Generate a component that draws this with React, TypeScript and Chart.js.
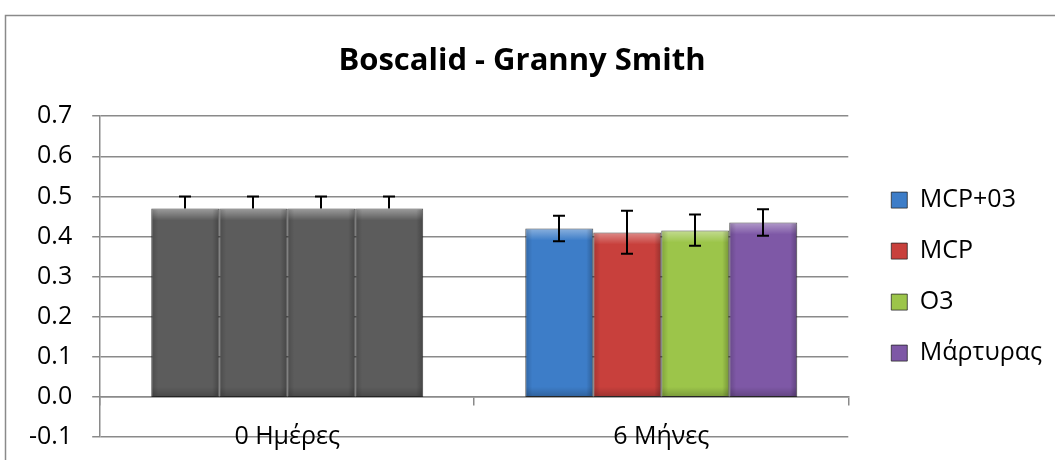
import React, { useEffect, useRef } from "react";
import { Chart, registerables } from "chart.js";

Chart.register(...registerables);

// ---- data ----
const chartTitle = "Boscalid - Granny Smith";
const categories = ["0 Ημέρες", "6 Μήνες"];
const seriesNames = ["MCP+03", "MCP", "O3", "Μάρτυρας"];
const valuesMcpO3 = [0.47, 0.42];
const valuesMcp = [0.47, 0.41];
const valuesO3 = [0.47, 0.415];
const valuesControl = [0.47, 0.435];
const errPlusMcpO3 = [0.03, 0.032];
const errMinusMcpO3 = [0, 0.032];
const errPlusMcp = [0.03, 0.054];
const errMinusMcp = [0, 0.053];
const errPlusO3 = [0.03, 0.04];
const errMinusO3 = [0, 0.038];
const errPlusControl = [0.03, 0.033];
const errMinusControl = [0, 0.033];
const yMin = -0.1;
const yMax = 0.7;
const yStep = 0.1;

// ---- styles ----
const FONT = "'Open Sans', 'DejaVu Sans', sans-serif";
const seriesColors = ["#3d7dc8", "#c8403c", "#9cc54a", "#7e58a6"];
const baseGray = "#5c5c5c";
const gridColor = "#8a8a8a";
const barEdge = "rgba(35,35,35,0.75)";
const LEGEND_SHIFT = 17;

const seriesValues = [valuesMcpO3, valuesMcp, valuesO3, valuesControl];
const seriesErrPlus = [errPlusMcpO3, errPlusMcp, errPlusO3, errPlusControl];
const seriesErrMinus = [errMinusMcpO3, errMinusMcp, errMinusO3, errMinusControl];

const framePlugin = {
  id: "frame",
  beforeDraw(chart: any) {
    const ctx = chart.ctx;
    ctx.save();
    ctx.fillStyle = "#ffffff";
    ctx.fillRect(0, 0, chart.width, chart.height);
    ctx.strokeStyle = "#8a8a8a";
    ctx.lineWidth = 1.5;
    ctx.strokeRect(5.5, 15.5, chart.width + 20, chart.height + 20);
    ctx.restore();
  },
};

const legendShiftPlugin = {
  id: "legendShift",
  afterLayout(chart: any) {
    const lg = chart.legend;
    if (lg) {
      lg.left += LEGEND_SHIFT;
      lg.right += LEGEND_SHIFT;
    }
  },
};

const barEffectsPlugin = {
  id: "barEffects",
  beforeDatasetsDraw(chart: any) {
    const ctx = chart.ctx;
    ctx.save();
    ctx.shadowColor = "rgba(0,0,0,0.3)";
    ctx.shadowBlur = 5;
    ctx.shadowOffsetX = 0;
    ctx.shadowOffsetY = 3;
  },
  afterDatasetsDraw(chart: any) {
    const ctx = chart.ctx;
    ctx.restore();
    // bevel overlays
    chart.data.datasets.forEach((ds: any, di: number) => {
      const meta = chart.getDatasetMeta(di);
      meta.data.forEach((bar: any) => {
        const w = bar.width;
        const left = bar.x - w / 2;
        const right = bar.x + w / 2;
        const top = Math.min(bar.y, bar.base);
        const bottom = Math.max(bar.y, bar.base);
        ctx.save();
        let g = ctx.createLinearGradient(0, top, 0, top + 12);
        g.addColorStop(0, "rgba(255,255,255,0.4)");
        g.addColorStop(1, "rgba(255,255,255,0)");
        ctx.fillStyle = g;
        ctx.fillRect(left + 1, top + 1, w - 2, 12);
        g = ctx.createLinearGradient(0, bottom - 10, 0, bottom);
        g.addColorStop(0, "rgba(0,0,0,0)");
        g.addColorStop(1, "rgba(0,0,0,0.22)");
        ctx.fillStyle = g;
        ctx.fillRect(left + 1, bottom - 10, w - 2, 10);
        g = ctx.createLinearGradient(left, 0, left + 7, 0);
        g.addColorStop(0, "rgba(0,0,0,0.18)");
        g.addColorStop(1, "rgba(0,0,0,0)");
        ctx.fillStyle = g;
        ctx.fillRect(left + 1, top + 1, 7, bottom - top - 2);
        g = ctx.createLinearGradient(right - 7, 0, right, 0);
        g.addColorStop(0, "rgba(0,0,0,0)");
        g.addColorStop(1, "rgba(0,0,0,0.25)");
        ctx.fillStyle = g;
        ctx.fillRect(right - 8, top + 1, 7, bottom - top - 2);
        ctx.restore();
      });
    });
    // error bars
    const yScale = chart.scales.y;
    ctx.save();
    ctx.strokeStyle = "#000000";
    ctx.lineWidth = 2;
    chart.data.datasets.forEach((ds: any, di: number) => {
      const meta = chart.getDatasetMeta(di);
      meta.data.forEach((bar: any, i: number) => {
        const v = seriesValues[di][i];
        const hi = yScale.getPixelForValue(v + seriesErrPlus[di][i]);
        const lo = yScale.getPixelForValue(v - seriesErrMinus[di][i]);
        const x = Math.round(bar.x);
        const cap = 6;
        ctx.beginPath();
        ctx.moveTo(x, hi);
        ctx.lineTo(x, lo);
        ctx.moveTo(x - cap, hi);
        ctx.lineTo(x + cap, hi);
        if (seriesErrMinus[di][i] > 0) {
          ctx.moveTo(x - cap, lo);
          ctx.lineTo(x + cap, lo);
        }
        ctx.stroke();
      });
    });
    ctx.restore();
  },
};

export default function App() {
  const canvasRef = useRef<HTMLCanvasElement | null>(null);

  useEffect(() => {
    if (!canvasRef.current) return;
    const datasets = seriesNames.map((name, si) => ({
      label: name,
      data: seriesValues[si],
      backgroundColor: (ctx: any) =>
        ctx.type === "data" && ctx.dataIndex === 0 ? baseGray : seriesColors[si],
      borderColor: barEdge,
      borderWidth: 1,
      borderSkipped: false,
    }));

    const chart = new Chart(canvasRef.current, {
      type: "bar",
      data: { labels: categories, datasets },
      plugins: [framePlugin, legendShiftPlugin, barEffectsPlugin],
      options: {
        animation: false,
        responsive: false,
        events: [],
        layout: { padding: { left: 9, right: 20, top: 0, bottom: 23 } },
        datasets: {
          bar: { categoryPercentage: 0.727, barPercentage: 1.0 },
        },
        plugins: {
          title: {
            display: true,
            text: chartTitle,
            color: "#000000",
            font: { family: FONT, size: 31, weight: "bold" },
            padding: { top: 43, bottom: 36 },
          },
          legend: {
            display: true,
            position: "right",
            fullSize: false,
            align: "center",
            labels: {
              color: "#000000",
              font: { family: FONT, size: 25 },
              boxWidth: 16,
              boxHeight: 16,
              padding: 26,
              generateLabels: () =>
                seriesNames.map((name, i) => ({
                  text: name,
                  fillStyle: seriesColors[i],
                  strokeStyle: barEdge,
                  lineWidth: 1,
                  fontColor: "#000000",
                  hidden: false,
                  datasetIndex: i,
                })),
            },
          },
          tooltip: { enabled: false },
        },
        scales: {
          x: {
            type: "category",
            position: { y: 0 } as any,
            offset: true,
            grid: {
              display: true,
              offset: true,
              drawOnChartArea: false,
              drawTicks: true,
              tickLength: 8,
              color: gridColor,
              lineWidth: 1.5,
            },
            border: { display: true, color: gridColor, width: 1.5 },
            ticks: {
              color: "#000000",
              font: { family: FONT, size: 25 },
              padding: 17,
              maxRotation: 0,
            },
          },
          y: {
            type: "linear",
            min: yMin,
            max: yMax,
            afterFit: (scale: any) => {
              scale.paddingBottom = 0;
            },
            grid: {
              color: gridColor,
              lineWidth: 1.5,
              drawTicks: true,
              tickLength: 8,
            },
            border: { display: true, color: gridColor, width: 1.5 },
            ticks: {
              stepSize: yStep,
              color: "#000000",
              font: { family: FONT, size: 25 },
              padding: 20,
              callback: (v: any) => {
                const n = Number(v);
                return (Math.abs(n) < 1e-9 ? 0 : n).toFixed(1);
              },
            },
          },
        },
      },
    });
    return () => chart.destroy();
  }, []);

  return (
    <div style={{ position: "fixed", left: 0, top: 0, width: 1055, height: 460 }}>
      <canvas ref={canvasRef} width={1055} height={460} />
    </div>
  );
}
